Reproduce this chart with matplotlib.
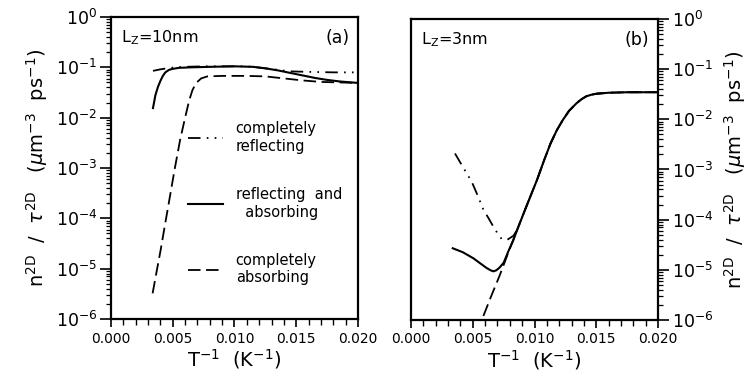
import numpy as np
import matplotlib
matplotlib.use("Agg")
import matplotlib.pyplot as plt
from matplotlib.ticker import LogLocator, MultipleLocator, FormatStrFormatter, NullFormatter
from matplotlib.lines import Line2D

plt.rcParams["font.family"] = ["DejaVu Sans"]
plt.rcParams["mathtext.fontset"] = "dejavusans"
plt.rcParams["lines.scale_dashes"] = False

# ---- panel (a): Lz = 10 nm, log10 of n/tau vs inverse temperature ----
a_refl_x = [0.0034, 0.0040, 0.0045, 0.0052, 0.0060, 0.0075, 0.0090, 0.0105, 0.0115,
            0.0125, 0.0135, 0.0145, 0.0160, 0.0180, 0.0200]
a_refl_y = [-1.07, -1.04, -1.02, -1.00, -0.99, -0.98, -0.98, -0.98, -0.99,
            -1.02, -1.05, -1.08, -1.09, -1.10, -1.10]

a_both_x = [0.0034, 0.0035, 0.0036, 0.0038, 0.0040, 0.0042, 0.0044, 0.0047, 0.0050,
            0.0055, 0.0065, 0.0080, 0.0100, 0.0115, 0.0125, 0.0135, 0.0145, 0.0155,
            0.0165, 0.0175, 0.0185, 0.0200]
a_both_y = [-1.81, -1.68, -1.55, -1.39, -1.27, -1.17, -1.10, -1.05, -1.03,
            -1.01, -1.00, -0.99, -0.98, -0.99, -1.02, -1.06, -1.11, -1.16,
            -1.21, -1.25, -1.28, -1.31]

a_abs_x = [0.00337, 0.00370, 0.00402, 0.00437, 0.00472, 0.00515, 0.00559, 0.00600,
           0.00634, 0.00660, 0.00690, 0.00730, 0.00780, 0.0090, 0.0110, 0.0125,
           0.0140, 0.0155, 0.0170, 0.0185, 0.0200]
a_abs_y = [-5.49, -5.05, -4.63, -4.13, -3.64, -3.03, -2.45, -2.00,
           -1.65, -1.45, -1.31, -1.22, -1.18, -1.17, -1.17, -1.18,
           -1.22, -1.26, -1.29, -1.30, -1.31]

# ---- panel (b): Lz = 3 nm ----
b_common_x = [0.0086, 0.0094, 0.0102, 0.0108, 0.0113, 0.0118, 0.0123, 0.0128,
              0.0134, 0.0138, 0.0142, 0.0146, 0.0150, 0.0160, 0.0175, 0.0200]
b_common_y = [-4.20, -3.70, -3.21, -2.80, -2.48, -2.22, -2.01, -1.83,
              -1.68, -1.60, -1.54, -1.51, -1.49, -1.47, -1.46, -1.46]

b_refl_x = [0.00356, 0.00420, 0.00491, 0.00540, 0.00586, 0.00630, 0.00667, 0.00700,
            0.00735, 0.00780, 0.00830] + b_common_x
b_refl_y = [-2.68, -2.95, -3.24, -3.52, -3.80, -3.98, -4.14, -4.27,
            -4.39, -4.40, -4.32] + b_common_y

b_both_x = [0.00338, 0.00420, 0.00505, 0.00560, 0.00610, 0.00645, 0.00667, 0.00690,
            0.00715, 0.00750, 0.00790, 0.00830] + b_common_x
b_both_y = [-4.57, -4.65, -4.77, -4.87, -4.96, -5.01, -5.03, -5.01,
            -4.96, -4.86, -4.62, -4.40] + b_common_y

b_abs_x = [0.00586, 0.00650, 0.00720, 0.00790] + b_common_x
b_abs_y = [-5.92, -5.52, -5.10, -4.64] + b_common_y

x_ticks = [0.000, 0.005, 0.010, 0.015, 0.020]

labels = ["completely\nreflecting", "reflecting  and\n  absorbing", "completely\nabsorbing"]

dashdotdot = (0, (9, 4.5, 1.2, 4.5, 1.2, 4.5))
dashed = (0, (9, 4))
lw = 1.3

ylabel = r"n$^{\mathregular{2D}}$  /  $\tau^{\mathregular{2D}}$   ($\mu$m$^{-3}$  ps$^{-1}$)"
xlabel = r"T$^{-1}$  (K$^{-1}$)"

fig = plt.figure(figsize=(7.54, 3.83), dpi=100)
ax_a = fig.add_axes([0.1472, 0.1671, 0.3276, 0.7885])
ax_b = fig.add_axes([0.5451, 0.1645, 0.3276, 0.7859])


def style_axes(ax, side):
    ax.set_yscale("log")
    ax.set_xlim(0.0, 0.020)
    ax.set_ylim(1e-6, 1.0)
    ax.xaxis.set_major_locator(MultipleLocator(0.005))
    ax.xaxis.set_minor_locator(MultipleLocator(0.001))
    ax.xaxis.set_major_formatter(FormatStrFormatter("%.3f"))
    ax.yaxis.set_major_locator(LogLocator(base=10, numticks=10))
    ax.yaxis.set_minor_locator(LogLocator(base=10, subs=np.arange(2, 10), numticks=10))
    ax.yaxis.set_minor_formatter(NullFormatter())
    for s in ax.spines.values():
        s.set_linewidth(1.6)
    ax.tick_params(axis="x", which="major", direction="out", length=6, width=1.2,
                   labelsize=10, top=False, pad=3)
    ax.tick_params(axis="x", which="minor", direction="out", length=4, width=1.0, top=False)
    if side == "left":
        ax.tick_params(axis="y", which="major", direction="out", length=8, width=1.2,
                       labelsize=12.5, right=False, pad=2)
        ax.tick_params(axis="y", which="minor", direction="out", length=3.5, width=0.9, right=False)
    else:
        ax.yaxis.tick_right()
        ax.yaxis.set_label_position("right")
        ax.tick_params(axis="y", which="major", direction="out", length=8, width=1.2,
                       labelsize=12.5, left=False, right=True, pad=2)
        ax.tick_params(axis="y", which="minor", direction="out", length=3.5, width=0.9,
                       left=False, right=True)
    ax.set_xticks(x_ticks)
    ax.set_xlabel(xlabel, fontsize=14, labelpad=1)
    ax.set_ylabel(ylabel, fontsize=14, labelpad=4 if side == "left" else 6,
                  rotation=90)


style_axes(ax_a, "left")
style_axes(ax_b, "right")

pow10 = lambda v: np.power(10.0, v)

ax_a.plot(a_refl_x, pow10(a_refl_y), color="black", lw=lw, linestyle=dashdotdot)
ax_a.plot(a_both_x, pow10(a_both_y), color="black", lw=lw + 0.2, linestyle="-")
ax_a.plot(a_abs_x, pow10(a_abs_y), color="black", lw=lw, linestyle=dashed)

ax_b.plot(b_refl_x, pow10(b_refl_y), color="black", lw=lw, linestyle=dashdotdot)
ax_b.plot(b_abs_x, pow10(b_abs_y), color="black", lw=lw, linestyle=dashed)
ax_b.plot(b_both_x, pow10(b_both_y), color="black", lw=lw + 0.2, linestyle="-")

handles = [Line2D([], [], color="black", lw=lw, linestyle=dashdotdot),
           Line2D([], [], color="black", lw=lw + 0.2, linestyle="-"),
           Line2D([], [], color="black", lw=lw, linestyle=dashed)]
ax_a.legend(handles, labels, loc="upper left", bbox_to_anchor=(0.31, 0.655),
            frameon=False, fontsize=10.5, handlelength=2.4, handletextpad=0.9,
            labelspacing=2.3, borderpad=0, borderaxespad=0)

ax_a.text(0.04, 0.93, r"L$_{\mathregular{Z}}$=10nm", transform=ax_a.transAxes,
          fontsize=11.5, ha="left", va="center")
ax_a.text(0.965, 0.93, "(a)", transform=ax_a.transAxes, fontsize=12.5,
          ha="right", va="center")
ax_b.text(0.04, 0.93, r"L$_{\mathregular{Z}}$=3nm", transform=ax_b.transAxes,
          fontsize=11.5, ha="left", va="center")
ax_b.text(0.965, 0.93, "(b)", transform=ax_b.transAxes, fontsize=12.5,
          ha="right", va="center")

fig.savefig("out.png", dpi=100)
